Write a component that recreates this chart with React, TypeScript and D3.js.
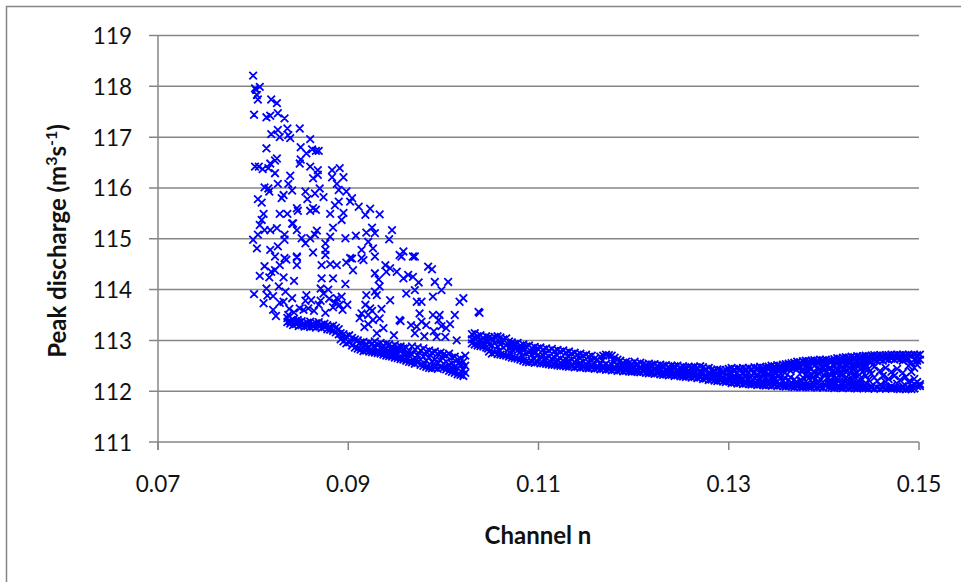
import React from "react";
import * as d3 from "d3";

const xTicks = [0.07, 0.09, 0.11, 0.13, 0.15];
const yTicks = [111, 112, 113, 114, 115, 116, 117, 118, 119];

// Scattered points: [n, Q]
const fanPoints: number[][] = [
[.0800,118.21],[.0802,117.96],[.0807,117.99],[.0803,117.93],[.0805,117.74],[.0804,117.83],[.0819,117.74],[.0825,117.67],[.0801,117.44],[.0814,117.39],[.0818,117.42],[.0826,117.47],[.0833,117.37],[.0849,117.17],[.0836,117.17],[.0826,117.14],[.0819,117.06],[.0828,117.0],[.0837,117.04],[.0839,116.98],[.0860,116.96],[.0814,116.78],[.0850,116.8],[.0862,116.76],[.0869,116.73],[.0866,116.73],[.0856,116.68],[.0850,116.56],[.0849,116.48],[.0825,116.58],[.0823,116.54],[.0818,116.48],[.0802,116.42],[.0806,116.42],[.0810,116.37],[.0816,116.39],[.0823,116.29],[.0860,116.42],[.0868,116.35],[.0883,116.35],[.0891,116.39],[.0895,116.21],[.0883,116.21],[.0863,116.19],[.0868,116.26],[.0839,116.24],[.0837,116.08],[.0826,116.08],[.0812,116.01],[.0817,115.93],[.0816,115.99],[.0841,115.95],[.0832,115.86],[.0830,115.8],[.0805,115.78],[.0809,115.71],[.0870,115.99],[.0888,116.08],[.0890,115.96],[.0898,115.93],[.0904,115.8],[.0902,115.73],[.0911,115.63],[.0918,115.47],[.0923,115.59],[.0933,115.48],[.0855,115.93],[.0865,115.89],[.0857,115.78],[.0874,115.82],[.0890,115.73],[.0886,115.66],[.0863,115.6],[.0860,115.55],[.0866,115.57],[.0846,115.6],[.0847,115.55],[.0828,115.49],[.0836,115.49],[.0811,115.49],[.0809,115.37],[.0807,115.27],[.0812,115.17],[.0805,115.08],[.0818,115.17],[.0825,115.21],[.0841,115.3],[.0842,115.3],[.0846,115.17],[.0833,115.08],[.0833,114.98],[.0881,115.49],[.0895,115.51],[.0893,115.37],[.0884,115.22],[.0867,115.16],[.0865,115.08],[.0851,115.01],[.0855,114.91],[.0860,115.01],[.0881,115.04],[.0876,114.91],[.0876,114.78],[.0876,114.68],[.0897,115.01],[.0908,115.06],[.0919,115.12],[.0925,115.22],[.0928,115.11],[.0946,115.17],[.0943,114.99],[.0921,114.94],[.0914,114.78],[.0926,114.81],[.0928,114.65],[.0800,114.98],[.0804,114.81],[.0818,114.78],[.0826,114.85],[.0823,114.65],[.0833,114.62],[.0846,114.65],[.0863,114.73],[.0902,114.62],[.0914,114.62],[.0954,114.68],[.0968,114.65],[.0958,114.75],
[.0812,114.46],[.0819,114.35],[.0828,114.48],[.0835,114.59],[.0846,114.63],[.0846,114.48],[.0823,114.38],[.0807,114.27],[.0817,114.24],[.0832,114.24],[.0843,114.17],[.0814,114.02],[.0827,114.06],[.0801,113.91],[.0821,113.87],[.0828,113.74],[.0811,113.73],[.0821,113.6],[.0834,113.96],[.0841,113.83],[.0856,113.89],[.0855,113.78],[.0861,113.79],[.0849,113.63],[.0858,113.63],[.0869,113.7],[.0876,113.54],[.0837,113.5],[.0847,113.4],[.0872,114.48],[.0881,114.5],[.0888,114.48],[.0872,114.22],[.0884,114.22],[.0897,114.11],[.0871,114.02],[.0879,114.0],[.0874,113.92],[.0888,113.83],[.0893,113.86],[.0884,113.65],[.0891,113.7],[.0899,113.7],[.0898,114.53],[.0904,114.61],[.0905,114.38],[.0916,114.58],[.0928,114.32],[.0932,114.2],[.0933,114.06],[.0928,113.96],[.0919,113.89],[.0930,113.89],[.0944,113.79],[.0918,113.7],[.0923,113.63],[.0914,113.53],[.0921,113.5],[.0926,113.4],[.0933,113.43],[.0921,113.32],[.0937,113.24],[.0930,113.14],[.0939,114.48],[.0944,114.42],[.0940,114.35],[.0951,114.35],[.0958,114.22],[.0963,114.29],[.0968,114.25],[.0974,114.14],[.0970,114.65],[.0956,114.65],[.0961,113.92],[.0970,113.99],[.0972,113.76],[.0977,113.76],[.0989,113.86],[.0998,113.99],[.1005,114.15],[.0991,114.15],[.0984,114.45],[.0988,114.4],[.0975,113.53],[.0977,113.37],[.0989,113.5],[.0996,113.5],[.0995,113.4],[.0982,113.3],[.0972,113.27],[.0970,113.14],[.1007,113.32],[.1012,113.5],[.1017,113.76],[.1021,113.83],[.1037,113.56],[.1038,113.54],[.0954,113.4],[.0955,113.38],[.1003,113.24],[.0993,113.07],[.1002,113.07],[.1014,113.0],
[.0824,113.48],[.0815,113.88],[.0832,113.76],[.0838,113.62],[.0843,113.55],[.0853,113.6],[.0864,113.58],[.0871,113.78],[.0880,113.82],[.0886,113.74],[.0894,113.6],[.0904,113.05],[.0912,113.44],[.0917,113.26],[.0925,113.58],[.0935,113.62],[.0948,113.1],[.0966,113.3],[.0980,113.08],[.0990,113.18],[.0998,113.28],
];

// Dense band left of the break: [n, Q, Q, ...]
const leftBandRows: number[][] = [
[.0836,113.44,113.36],[.0839,113.38,113.33],[.0842,113.40,113.30],[.0845,113.37,113.32],[.0848,113.36,113.28],[.0851,113.38,113.30],[.0854,113.33,113.27],[.0857,113.35,113.28],[.0860,113.37,113.26],[.0863,113.33,113.27],[.0866,113.34,113.25],[.0869,113.36,113.28],[.0872,113.31,113.24],[.0875,113.33,113.26],[.0878,113.30,113.22],[.0881,113.27,113.21],[.0884,113.29,113.19],[.0887,113.25,113.16],[.0890,113.22,113.12],[.0892,113.14,113.02],[.0895,113.12,112.98],[.0898,113.08,112.94],[.0901,113.10,112.96],[.0904,113.05,112.90],[.0907,113.02,112.86],[.0910,113.00,112.84],[.0913,112.96,112.82],[.0916,112.97,112.85,112.79],[.0919,112.93,112.80],[.0922,112.96,112.86,112.78],[.0925,112.94,112.77],[.0928,112.98,112.85,112.76],[.0931,112.92,112.80,112.75],[.0934,112.95,112.84,112.74],[.0937,112.90,112.81,112.72],[.0940,112.93,112.83,112.70],[.0943,112.92,112.78,112.69],[.0946,112.88,112.80,112.68],[.0949,112.91,112.76,112.66],[.0952,112.87,112.74,112.65],[.0955,112.88,112.78,112.63],[.0958,112.84,112.72,112.62],[.0961,112.86,112.74,112.60],[.0964,112.80,112.70,112.58],[.0967,112.88,112.72,112.57],[.0970,112.82,112.66,112.54],[.0973,112.86,112.70,112.56],[.0976,112.80,112.62,112.52],[.0979,112.84,112.68,112.50],[.0982,112.78,112.60,112.48],[.0985,112.80,112.66,112.46],[.0988,112.76,112.58,112.45],[.0991,112.78,112.62,112.46],[.0994,112.74,112.56,112.44],[.0997,112.76,112.60,112.47],[.1000,112.72,112.54,112.46],[.1003,112.70,112.58,112.43],[.1006,112.74,112.52,112.40],[.1009,112.66,112.54,112.38],[.1012,112.68,112.48,112.36],[.1015,112.62,112.46,112.33],[.1018,112.64,112.50,112.32],[.1021,112.58,112.42,112.30],[.1023,112.70,112.50,112.36],
];

// Dense band right of the break: [n, Q, Q, ...]
const midBandRows: number[][] = [
[.1030,113.12,113.02,112.94],[.1033,113.14,113.04,112.92],[.1036,113.08,112.98,112.90],[.1039,113.10,113.00,112.89],[.1042,113.05,112.96,112.88],[.1045,113.08,112.98,112.86],[.1048,113.06,112.92,112.78],[.1051,113.04,112.90,112.74],[.1054,113.07,112.94,112.76],[.1057,113.08,112.88,112.73],[.1060,113.06,112.92,112.72],[.1063,113.02,112.86,112.71],[.1066,113.04,112.90,112.70],[.1069,112.98,112.84,112.68],[.1072,112.96,112.82,112.66],[.1075,112.93,112.84,112.65],[.1078,112.95,112.80,112.64],[.1081,112.90,112.78,112.62],[.1084,112.92,112.80,112.60],[.1087,112.88,112.74,112.58],[.1090,112.90,112.76,112.57],[.1093,112.85,112.72,112.58],[.1096,112.87,112.74,112.56],[.1099,112.84,112.70,112.57],[.1102,112.86,112.68,112.55],[.1105,112.82,112.70,112.55],[.1108,112.84,112.66,112.54],[.1111,112.80,112.68,112.53],[.1114,112.83,112.64,112.52],[.1117,112.79,112.66,112.52],[.1120,112.81,112.62,112.51],[.1123,112.78,112.64,112.50],[.1126,112.80,112.60,112.50],[.1129,112.76,112.62,112.49],[.1132,112.78,112.60,112.48],[.1135,112.74,112.62,112.49],[.1138,112.76,112.58,112.47],[.1141,112.72,112.60,112.48],[.1144,112.74,112.56,112.46],[.1147,112.70,112.58,112.47],[.1150,112.72,112.54,112.46],[.1153,112.68,112.56,112.45],[.1156,112.70,112.52,112.46],[.1159,112.64,112.54,112.44],[.1162,112.62,112.50,112.45],[.1165,112.68,112.53,112.43],[.1168,112.70,112.50,112.44],[.1171,112.72,112.54,112.42],[.1174,112.71,112.50,112.43],[.1177,112.70,112.52,112.41],[.1180,112.66,112.48,112.42],[.1183,112.62,112.50,112.40],[.1186,112.60,112.46,112.41],[.1189,112.56,112.48,112.39],[.1192,112.58,112.44,112.40],[.1195,112.55,112.46,112.39],[.1198,112.54,112.44,112.38],[.1201,112.58,112.46,112.39],[.1204,112.54,112.42,112.38],[.1207,112.56,112.44,112.37],[.1210,112.53,112.42,112.38],[.1213,112.52,112.44,112.36],[.1216,112.54,112.42,112.35],[.1219,112.52,112.40,112.36],[.1222,112.53,112.42,112.34],[.1225,112.50,112.40,112.35],[.1228,112.52,112.41,112.33],[.1231,112.50,112.38,112.32],[.1234,112.51,112.40,112.33],[.1237,112.48,112.38,112.31],[.1240,112.50,112.39,112.32],[.1243,112.49,112.36,112.30],[.1246,112.50,112.38,112.31],[.1249,112.47,112.36,112.30],[.1252,112.49,112.37,112.29],[.1255,112.46,112.35,112.28],[.1258,112.48,112.36,112.29],[.1261,112.47,112.34,112.27],[.1264,112.48,112.36,112.28],[.1267,112.46,112.33,112.26],[.1270,112.49,112.36,112.27],
];

// Widening tail of the band, up to the right edge: [n, Q, Q, ...]
const tailRows: number[][] = [
[.1273,112.47,112.36,112.24],[.1276,112.44,112.32,112.25],[.1279,112.46,112.34,112.22],[.1282,112.42,112.30,112.23],[.1285,112.41,112.31,112.21],[.1288,112.43,112.33,112.20],[.1291,112.42,112.30,112.21],[.1294,112.40,112.28,112.19],[.1297,112.42,112.32,112.18],[.1300,112.44,112.29,112.20],[.1303,112.46,112.34,112.22,112.16],[.1306,112.43,112.30,112.17],[.1309,112.45,112.36,112.24,112.15],[.1312,112.44,112.31,112.21,112.16],[.1315,112.46,112.35,112.25,112.14],[.1318,112.44,112.32,112.20,112.15],[.1321,112.46,112.36,112.24,112.14],[.1324,112.44,112.31,112.19,112.13],[.1327,112.47,112.37,112.26,112.14],[.1330,112.46,112.33,112.21,112.12],[.1333,112.48,112.38,112.24,112.13],[.1336,112.46,112.35,112.20,112.12],[.1339,112.47,112.38,112.26,112.11],[.1342,112.48,112.34,112.22,112.12],[.1345,112.50,112.40,112.28,112.11],[.1348,112.49,112.37,112.22,112.12],[.1351,112.51,112.41,112.19,112.10],[.1354,112.50,112.42,112.24,112.11],[.1357,112.52,112.44,112.20,112.10],[.1360,112.53,112.45,112.16,112.09],[.1363,112.54,112.46,112.22,112.10],[.1366,112.55,112.46,112.17,112.09],[.1369,112.56,112.47,112.23,112.08],[.1372,112.58,112.48,112.15,112.09],[.1375,112.57,112.46,112.21,112.08],[.1378,112.59,112.44,112.27,112.14,112.08],[.1381,112.60,112.49,112.32,112.19,112.09],[.1384,112.59,112.48,112.25,112.12,112.08],[.1387,112.60,112.44,112.32,112.08],[.1390,112.61,112.50,112.36,112.22,112.09],[.1393,112.60,112.46,112.30,112.14,112.07],[.1396,112.62,112.52,112.38,112.24,112.08],[.1399,112.61,112.48,112.18,112.07],[.1402,112.62,112.50,112.36,112.10],[.1405,112.60,112.44,112.26,112.08],[.1408,112.61,112.38,112.16,112.07],[.1411,112.63,112.50,112.30,112.12,112.06],[.1414,112.65,112.54,112.42,112.22,112.08],[.1417,112.64,112.52,112.34,112.07],[.1420,112.66,112.56,112.44,112.16,112.06],[.1423,112.67,112.54,112.38,112.26,112.08],[.1426,112.66,112.56,112.46,112.32,112.12,112.06],[.1429,112.68,112.58,112.40,112.20,112.07],[.1432,112.67,112.55,112.47,112.28,112.06],[.1435,112.69,112.58,112.36,112.14,112.05],[.1438,112.68,112.56,112.44,112.24,112.07],[.1441,112.69,112.58,112.38,112.10,112.06],[.1444,112.70,112.60,112.50,112.30,112.16,112.06],[.1447,112.69,112.59,112.44,112.22,112.05],[.1450,112.70,112.58,112.34,112.10,112.06],[.1453,112.71,112.61,112.48,112.27,112.05],[.1456,112.70,112.60,112.20,112.07],[.1459,112.71,112.62,112.40,112.12,112.05],[.1462,112.70,112.60,112.30,112.06],[.1465,112.71,112.63,112.46,112.18,112.05],[.1468,112.71,112.62,112.24,112.06],[.1471,112.72,112.64,112.38,112.10,112.05],[.1474,112.71,112.62,112.30,112.06],[.1477,112.72,112.64,112.44,112.15,112.05],[.1480,112.71,112.63,112.22,112.04],[.1483,112.72,112.60,112.36,112.10,112.05],[.1486,112.71,112.62,112.28,112.04],[.1489,112.72,112.64,112.50,112.18,112.05],[.1492,112.71,112.56,112.38,112.10,112.04],[.1495,112.72,112.62,112.46,112.24,112.14,112.05],[.1498,112.71,112.60,112.52,112.18,112.10],[.1501,112.72,112.62,112.14,112.10],
];

// Extra points between the rows above, where the band reads as solid: [n, Q, Q, ...]
const bandFillRows: number[][] = [
[.0918,112.89],[.0927,112.89],[.0936,112.86],[.0945,112.74],[.0954,112.82],[.0963,112.76],[.0972,112.62],[.0981,112.72],[.0990,112.54],[.0999,112.66],[.1008,112.46],[.1017,112.56],
[.1047,113.00,112.84],[.1059,112.98,112.80],[.1071,112.90,112.74],[.1083,112.85,112.69],[.1095,112.80,112.64],[.1107,112.75,112.61],[.1119,112.72,112.57],[.1131,112.69,112.54],[.1143,112.66,112.52],[.1155,112.62,112.49],[.1167,112.60,112.47],[.1179,112.60,112.46],[.1191,112.52,112.43],[.1203,112.50,112.42],[.1215,112.48,112.39],[.1227,112.46,112.38],[.1239,112.44,112.36],[.1251,112.43,112.33],[.1263,112.42,112.31],
[.1275,112.40,112.28],[.1284,112.37,112.26],[.1293,112.36,112.25],[.1302,112.38,112.26],[.1305,112.40,112.25,112.20],[.1311,112.40,112.28,112.19],[.1317,112.40,112.28,112.18],[.1323,112.41,112.27,112.17],[.1329,112.42,112.29,112.16],[.1335,112.41,112.28,112.16],[.1341,112.43,112.30,112.17],[.1347,112.44,112.30,112.17,112.24],[.1353,112.46,112.31,112.15],[.1359,112.48,112.36,112.26,112.14],[.1365,112.50,112.40,112.27,112.13],[.1371,112.52,112.42,112.18,112.12],[.1377,112.53,112.38,112.20,112.12],[.1383,112.54,112.40,112.30,112.16],[.1389,112.55,112.38,112.28,112.15],[.1395,112.56,112.44,112.34,112.18],[.1401,112.56,112.42,112.30,112.14],[.1407,112.56,112.46,112.32,112.20,112.12],[.1413,112.58,112.46,112.36,112.26,112.16],[.1419,112.60,112.48,112.36,112.24,112.12],[.1425,112.62,112.50,112.40,112.22,112.16],[.1431,112.62,112.50,112.42,112.32,112.18,112.12],[.1437,112.63,112.50,112.32,112.18,112.12],[.1443,112.64,112.54,112.44,112.12],
];

const WIDTH = 961;
const HEIGHT = 582;
const x = d3.scaleLinear().domain([0.07, 0.15]).range([158, 919]);
const y = d3.scaleLinear().domain([111, 119]).range([442, 35.5]);
const FONT = "Lato, Carlito, sans-serif";
const GREY = "#868686";

const rowsToPoints = (rows: number[][]) =>
  rows.flatMap((r) => r.slice(1).map((q) => [r[0], q]));

const allPoints = [
  ...fanPoints,
  ...rowsToPoints(leftBandRows),
  ...rowsToPoints(midBandRows),
  ...rowsToPoints(tailRows),
  ...rowsToPoints(bandFillRows),
];

const R = 3.8;
const crossPath = allPoints
  .map(([n, q]) => {
    const cx = x(n);
    const cy = y(q);
    return `M${cx - R},${cy - R}L${cx + R},${cy + R}M${cx - R},${cy + R}L${cx + R},${cy - R}`;
  })
  .join("");

export default function App() {
  return (
    <svg
      width={WIDTH}
      height={HEIGHT}
      viewBox={`0 0 ${WIDTH} ${HEIGHT}`}
      style={{ position: "absolute", left: 0, top: 0, background: "#fff" }}
    >
      <path d={`M6.5,${HEIGHT}V6.5H${WIDTH}`} fill="none" stroke={GREY} strokeWidth={1.5} />
      {yTicks.map((t) => (
        <g key={t}>
          <line x1={149} x2={919} y1={y(t)} y2={y(t)} stroke={GREY} strokeWidth={1.5} />
          <text x={132} y={y(t) + 8.5} textAnchor="end" fontFamily={FONT} fontSize={22.5} fill="#111">
            {t}
          </text>
        </g>
      ))}
      <line x1={158} x2={158} y1={35.5} y2={450} stroke={GREY} strokeWidth={1.5} />
      {xTicks.map((t) => (
        <g key={t}>
          <line x1={x(t)} x2={x(t)} y1={442} y2={450} stroke={GREY} strokeWidth={1.5} />
          <text x={x(t)} y={491.5} textAnchor="middle" fontFamily={FONT} fontSize={22.5} fill="#111">
            {t.toFixed(2)}
          </text>
        </g>
      ))}
      <path d={crossPath} fill="none" stroke="#0000ff" strokeWidth={1.8} />
      <text x={538} y={544} textAnchor="middle" fontFamily={FONT} fontSize={24} fontWeight={700} fill="#111">
        Channel n
      </text>
      <text
        transform="translate(66,241) rotate(-90)"
        textAnchor="middle"
        fontFamily={FONT}
        fontSize={24}
        fontWeight={700}
        fill="#111"
      >
        Peak discharge (m<tspan dy={-9} fontSize={16}>3</tspan>
        <tspan dy={9}>s</tspan>
        <tspan dy={-9} fontSize={16}>-1</tspan>
        <tspan dy={9}>)</tspan>
      </text>
    </svg>
  );
}
